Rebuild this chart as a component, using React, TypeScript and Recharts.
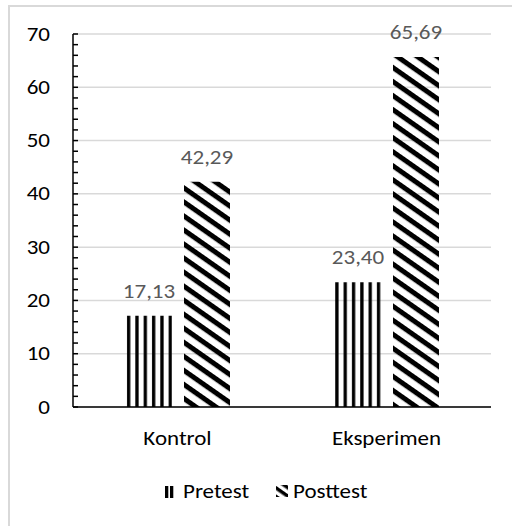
import React from 'react';
import { BarChart, Bar, XAxis, YAxis, CartesianGrid, LabelList, Legend } from 'recharts';

const categories = ['Kontrol', 'Eksperimen'];
const pretest = [17.13, 23.4];
const posttest = [42.29, 65.69];
const yTicks = [0, 2, 4, 6, 8, 10, 12, 14, 16, 18, 20, 22, 24, 26, 28, 30, 32, 34, 36, 38, 40, 42, 44, 46, 48, 50, 52, 54, 56, 58, 60, 62, 64, 66, 68, 70];
const gridValues = [0, 10, 20, 30, 40, 50, 60, 70];
const seriesNames = ['Pretest', 'Posttest'];

const data = categories.map((c, i) => ({ name: c, Pretest: pretest[i], Posttest: posttest[i] }));

const FONT = 'Carlito, Calibri, Lato, sans-serif';
const FS = 19.5;
const SX = 1.18;

const fmt = (v: any) => Number(v).toFixed(2).replace('.', ',');

const SText = ({ x, y, anchor, fill, children }: any) => (
  <g transform={`translate(${x},${y}) scale(${SX},1)`}>
    <text x={0} y={0} textAnchor={anchor} fill={fill} fontSize={FS} fontFamily={FONT}>
      {children}
    </text>
  </g>
);

const YTick = (props: any) => {
  const { x, y, payload } = props;
  const v = payload.value;
  return (
    <g>
      <line x1={x + 23} x2={x + 28} y1={y} y2={y} stroke="#000" strokeWidth={1.5} />
      {v % 10 === 0 && (
        <SText x={x} y={y + 6.5} anchor="end" fill="#000">
          {v}
        </SText>
      )}
    </g>
  );
};

const XTick = (props: any) => {
  const { x, y, payload } = props;
  return (
    <SText x={x} y={y + 15} anchor="middle" fill="#000">
      {payload.value}
    </SText>
  );
};

const ValueLabel = (props: any) => {
  const { x, y, width, value } = props;
  return (
    <SText x={x + width / 2} y={y - 18} anchor="middle" fill="#595959">
      {fmt(value)}
    </SText>
  );
};

const LegendContent = () => (
  <svg width={512} height={30} style={{ display: 'block' }}>
    <defs>
      <pattern id="diagLeg" patternUnits="userSpaceOnUse" width={7} height={7} patternTransform="rotate(35)">
        <rect x={0} y={0} width={7} height={3.5} fill="#000" />
      </pattern>
    </defs>
    <rect x={165} y={14} width={3.3} height={12} fill="#000" />
    <rect x={170} y={14} width={3.3} height={12} fill="#000" />
    <SText x={183} y={26} anchor="start" fill="#000">{seriesNames[0]}</SText>
    <rect x={276} y={13} width={12} height={12} fill="url(#diagLeg)" />
    <SText x={293} y={26} anchor="start" fill="#000">{seriesNames[1]}</SText>
  </svg>
);

export default function App() {
  return (
    <div style={{ position: 'absolute', left: 0, top: 0, width: 512, height: 526, background: '#fff', overflow: 'hidden' }}>
      <div style={{ position: 'absolute', left: 8, top: 5, width: 520, height: 540, border: '2px solid #d9d9d9', boxSizing: 'border-box' }} />
      <BarChart
        width={512}
        height={526}
        data={data}
        margin={{ top: 34, right: 21, bottom: 24, left: 0 }}
        barSize={46}
        barGap={12}
      >
        <defs>
          <pattern id="vstripe" patternUnits="userSpaceOnUse" x={126} y={0} width={8.33} height={10}>
            <rect x={1} y={0} width={3.3} height={10} fill="#000" />
          </pattern>
          <pattern id="diag" patternUnits="userSpaceOnUse" width={11.5} height={11.5} patternTransform="rotate(35)">
            <rect x={0} y={0} width={11.5} height={5} fill="#000" />
          </pattern>
        </defs>
        <CartesianGrid vertical={false} stroke="#d9d9d9" strokeWidth={1.5} horizontalValues={gridValues} />
        <XAxis
          dataKey="name"
          axisLine={{ stroke: '#000', strokeWidth: 1.5 }}
          tickLine={false}
          tickSize={0}
          tickMargin={23}
          height={65}
          tick={<XTick />}
        />
        <YAxis
          domain={[0, 70]}
          ticks={yTicks}
          interval={0}
          width={73}
          axisLine={{ stroke: '#000', strokeWidth: 1.5 }}
          tickLine={false}
          tickSize={0}
          tickMargin={23}
          tick={<YTick />}
        />
        <Legend verticalAlign="bottom" height={30} content={<LegendContent />} wrapperStyle={{ left: 0, width: 512, height: 30 }} />
        <Bar dataKey="Pretest" fill="url(#vstripe)" isAnimationActive={false}>
          <LabelList dataKey="Pretest" content={<ValueLabel />} />
        </Bar>
        <Bar dataKey="Posttest" fill="url(#diag)" isAnimationActive={false}>
          <LabelList dataKey="Posttest" content={<ValueLabel />} />
        </Bar>
      </BarChart>
    </div>
  );
}
